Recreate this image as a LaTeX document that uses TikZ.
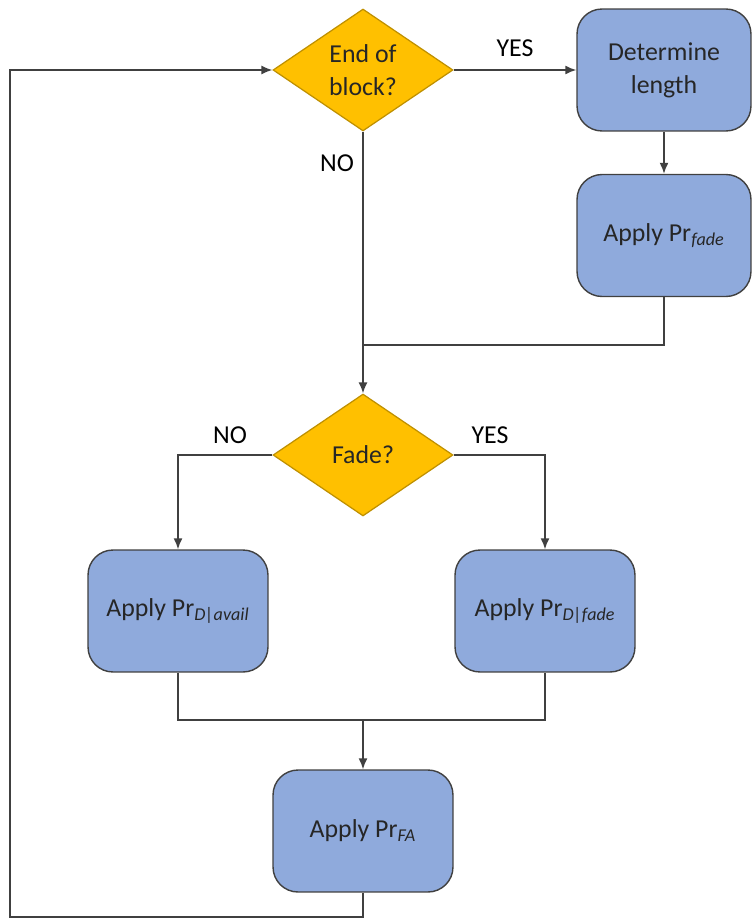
\documentclass[tikz,border=0pt]{standalone}
\usepackage{fontspec}
\setmainfont{Carlito}
\usetikzlibrary{shapes.geometric,arrows.meta}

\definecolor{boxblue}{HTML}{8FAADC}
\definecolor{decgold}{HTML}{FFC000}
\definecolor{linegrey}{HTML}{404040}

\tikzset{
  decision/.style={diamond, draw=decgold!75!black, fill=decgold, line width=0.7pt,
    minimum width=3.6cm, minimum height=2.44cm, inner sep=0pt, align=center, text=black!85},
  process/.style={rectangle, rounded corners=0.5cm, draw=linegrey, fill=boxblue, line width=0.8pt,
    minimum width=3.6cm, minimum height=2.44cm, align=center, text=black!85},
  line/.style={draw=linegrey, line width=0.9pt},
  arrow/.style={line, -{Latex[length=2.2mm,width=1.8mm]}},
}

\begin{document}
\begin{tikzpicture}[x=0.02cm, y=-0.02cm, font=\fontsize{14.7}{18.7}\selectfont]
\useasboundingbox (0,0) rectangle (751,919);

% decisions
\node[decision] (block) at (363,70) {End of\\block?};
\node[decision] (fade) at (363,455) {Fade?};

% steps
\node[process, minimum width=3.48cm] (length) at (664,70) {Determine\\length};
\node[process, minimum width=3.48cm] (prfade) at (664,235.5) {Apply Pr\textsubscript{\textit{fade}}};
\node[process] (avail) at (178,611) {Apply Pr\textsubscript{\textit{D|avail}}};
\node[process] (dfade) at (545,611) {Apply Pr\textsubscript{\textit{D|fade}}};
\node[process] (fa) at (363,831) {Apply Pr\textsubscript{\textit{FA}}};

% helper points
\coordinate (join1) at (363,345);
\coordinate (join2) at (363,720);
\coordinate (loopbot) at (363,917);
\coordinate (loopleft) at (10,917);

% connectors
\draw[arrow] (block.east) -- node[above=4pt] (yes1) {YES} (length.west);
\draw[arrow] (length.south) -- (prfade.north);
\draw[line] (prfade.south) |- (join1);
\draw[arrow] (block.south) -- (fade.north);
\node (no1) at (337,163) {NO};
\draw[arrow] (fade.west) -| (avail.north);
\draw[arrow] (fade.east) -| (dfade.north);
\node (no2) at (230,435) {NO};
\node (yes2) at (490,435) {YES};
\draw[line] (avail.south) |- (join2) -| (dfade.south);
\draw[arrow] (join2) -- (fa.north);
\draw[arrow] (fa.south) -- (loopbot) -- (loopleft) |- (block.west);
\end{tikzpicture}
\end{document}
